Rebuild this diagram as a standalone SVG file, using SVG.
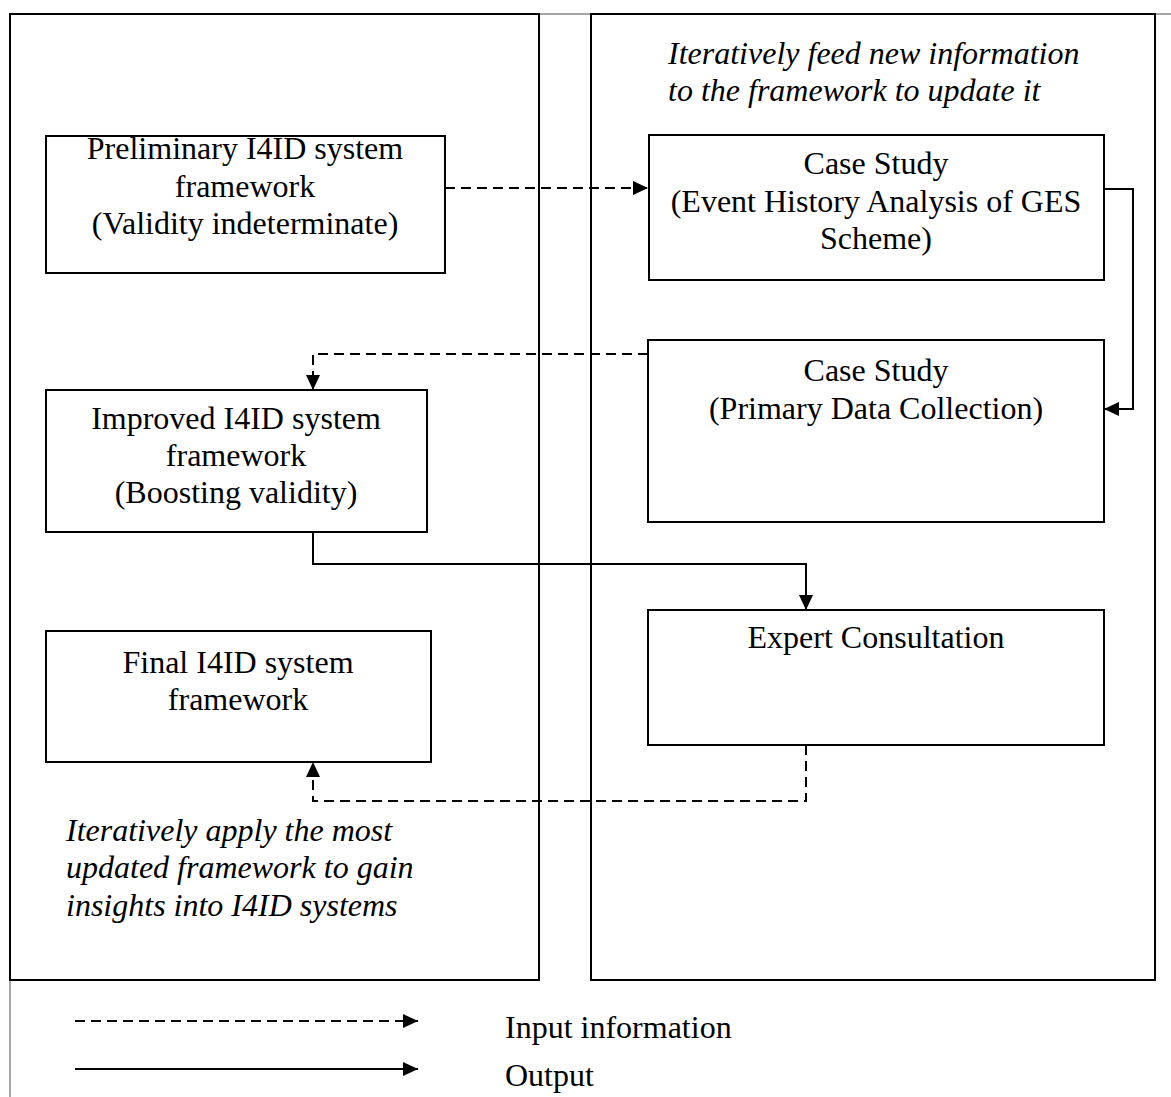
<svg xmlns="http://www.w3.org/2000/svg" width="1171" height="1097" viewBox="0 0 1171 1097">
  <style>
    .frame { fill: none; stroke: #000; stroke-width: 2; }
    .outer { fill: none; stroke: #888; stroke-width: 1.5; }
    .box { fill: #fff; stroke: #000; stroke-width: 2; }
    .lbl { font-family: "Liberation Serif", "Times New Roman", serif; font-size: 32px; fill: #000; text-anchor: middle; }
    .note { font-family: "Liberation Serif", "Times New Roman", serif; font-size: 32px; font-style: italic; fill: #000; }
    .leg { font-family: "Liberation Serif", "Times New Roman", serif; font-size: 32px; fill: #000; }
    .solid { fill: none; stroke: #000; stroke-width: 2; }
    .dash { fill: none; stroke: #000; stroke-width: 2; stroke-dasharray: 10 6; }
  </style>
  <defs>
    <marker id="tip" viewBox="0 0 15 14" refX="15" refY="7" markerWidth="15" markerHeight="14" markerUnits="userSpaceOnUse" orient="auto">
      <path d="M0,0 L15,7 L0,14 Z" fill="#000"/>
    </marker>
  </defs>

  <rect width="1171" height="1097" fill="#fff"/>

  <!-- page frame -->
  <path class="outer" d="M539,14 H591 M1155,14 H1171 M10,980 V1097"/>

  <!-- two panels -->
  <rect class="frame" x="10" y="14" width="529" height="966"/>
  <rect class="frame" x="591" y="14" width="564" height="966"/>

  <!-- panel notes -->
  <text class="note" x="668" y="64">Iteratively feed new information</text>
  <text class="note" x="668" y="101">to the framework to update it</text>
  <text class="note" x="66" y="841">Iteratively apply the most</text>
  <text class="note" x="66" y="878">updated framework to gain</text>
  <text class="note" x="66" y="916">insights into I4ID systems</text>

  <!-- connectors -->
  <g id="connectors">
    <path class="dash" d="M445,188 H648" stroke-dasharray="8 5" marker-end="url(#tip)"/>
    <path class="solid" d="M1104,189 H1133 V409 H1104" marker-end="url(#tip)"/>
    <path class="dash" d="M648,354 H313 V390" stroke-dasharray="12 6" marker-end="url(#tip)"/>
    <path class="solid" d="M313,532 V564 H806 V610" marker-end="url(#tip)"/>
    <path class="dash" d="M806,745 V801 H313 V762" marker-end="url(#tip)"/>
  </g>

  <!-- nodes -->
  <g id="preliminary">
    <rect class="box" x="46" y="136" width="399" height="137"/>
    <text class="lbl" x="245" y="159">Preliminary I4ID system</text>
    <text class="lbl" x="245" y="197">framework</text>
    <text class="lbl" x="245" y="234">(Validity indeterminate)</text>
  </g>
  <g id="case-event-history">
    <rect class="box" x="649" y="135" width="455" height="145"/>
    <text class="lbl" x="876" y="174">Case Study</text>
    <text class="lbl" x="876" y="212">(Event History Analysis of GES</text>
    <text class="lbl" x="876" y="249">Scheme)</text>
  </g>
  <g id="case-primary-data">
    <rect class="box" x="648" y="340" width="456" height="182"/>
    <text class="lbl" x="876" y="381">Case Study</text>
    <text class="lbl" x="876" y="419">(Primary Data Collection)</text>
  </g>
  <g id="improved">
    <rect class="box" x="46" y="390" width="381" height="142"/>
    <text class="lbl" x="236" y="429">Improved I4ID system</text>
    <text class="lbl" x="236" y="466">framework</text>
    <text class="lbl" x="236" y="503">(Boosting validity)</text>
  </g>
  <g id="expert">
    <rect class="box" x="648" y="610" width="456" height="135"/>
    <text class="lbl" x="876" y="648">Expert Consultation</text>
  </g>
  <g id="final">
    <rect class="box" x="46" y="631" width="385" height="131"/>
    <text class="lbl" x="238" y="673">Final I4ID system</text>
    <text class="lbl" x="238" y="710">framework</text>
  </g>

  <!-- legend -->
  <g id="legend">
    <path class="dash" d="M75,1021 H418" stroke-dasharray="9 5" marker-end="url(#tip)"/>
    <text class="leg" x="505" y="1038">Input information</text>
    <path class="solid" d="M75,1069 H418" marker-end="url(#tip)"/>
    <text class="leg" x="505" y="1086">Output</text>
  </g>
</svg>
